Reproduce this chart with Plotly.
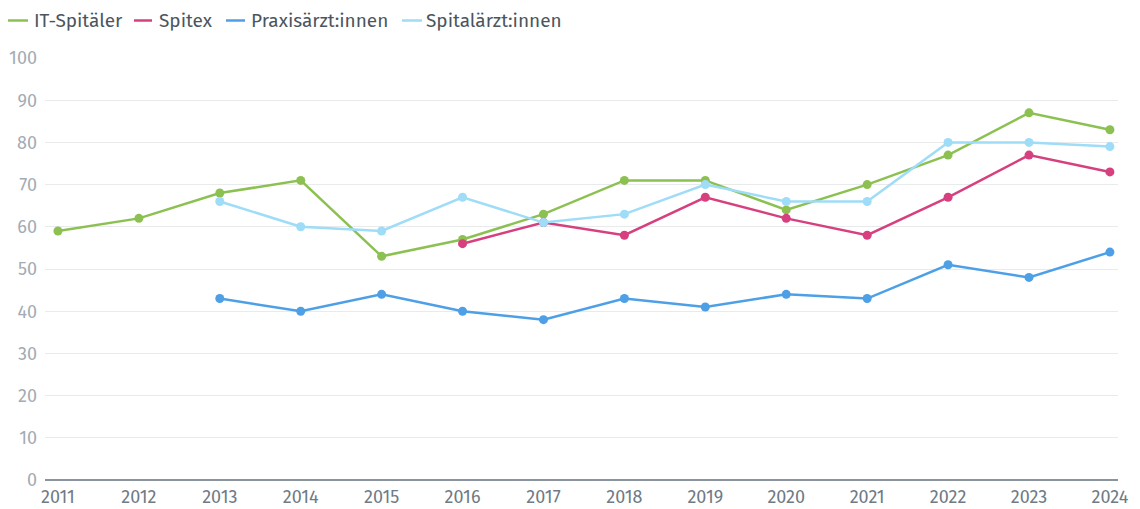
import plotly.graph_objects as go

years = list(range(2011, 2025))
it_spitaeler = [59, 62, 68, 71, 53, 57, 63, 71, 71, 64, 70, 77, 87, 83]
spitex = [None, None, None, None, None, 56, 61, 58, 67, 62, 58, 67, 77, 73]
praxis = [None, None, 43, 40, 44, 40, 38, 43, 41, 44, 43, 51, 48, 54]
spital = [None, None, 66, 60, 59, 67, 61, 63, 70, 66, 66, 80, 80, 79]

series = [
    ("IT-Spitäler", it_spitaeler, "#8cc152"),
    ("Spitex", spitex, "#d6407f"),
    ("Praxisärzt:innen", praxis, "#4d9fe6"),
    ("Spitalärzt:innen", spital, "#9edcf8"),
]

W, H = 1140, 509
L, R, T, B = 37, 30, 50, 37
PW, PH = W - L - R, H - T - B

def px(x):
    return (x - L) / PW

def py(y):
    return 1 - (y - T) / PH

fig = go.Figure()
for name, vals, col in series:
    fig.add_trace(go.Scatter(
        x=years, y=vals, name=name, mode="lines+markers",
        line=dict(color=col, width=2.5),
        marker=dict(color=col, size=9),
        connectgaps=False, showlegend=False,
    ))

# custom legend (line swatch + text) to match the reference layout
legend_pos = [(0, 20, 24), (126, 144, 149), (218, 237, 241), (394, 414, 416)]
ly = 12.5
for (name, _, col), (x0, x1, tx) in zip(series, legend_pos):
    fig.add_shape(type="line", xref="paper", yref="paper",
                  x0=px(x0), x1=px(x1), y0=py(ly), y1=py(ly),
                  line=dict(color=col, width=2.5))
    fig.add_annotation(xref="paper", yref="paper", x=px(tx), y=py(ly),
                       xanchor="left", yanchor="middle", text=name, showarrow=False,
                       font=dict(size=19, color="#4a5560"))

fig.update_layout(
    width=W, height=H,
    margin=dict(l=L, r=R, t=T, b=B),
    paper_bgcolor="white", plot_bgcolor="white",
    font=dict(family="Fira Sans, Noto Sans", size=18, color="#4a5560"),
    showlegend=False,
    xaxis=dict(range=[2010.84, 2024.1], tickmode="array", tickvals=years,
               ticktext=[str(y) for y in years], showgrid=False, zeroline=False,
               tickfont=dict(color="#6f7a85", size=18), ticks="", automargin=False,
               ticklabelstandoff=4),
    yaxis=dict(range=[0, 100], tickvals=list(range(0, 101, 10)), showgrid=True,
               gridcolor="#e8eaec", gridwidth=1, zeroline=True, zerolinecolor="#8a949e",
               zerolinewidth=2, tickfont=dict(color="#a3abb3", size=18), ticks="",
               ticklabelstandoff=7, automargin=False),
)
fig.write_html("out.html")
